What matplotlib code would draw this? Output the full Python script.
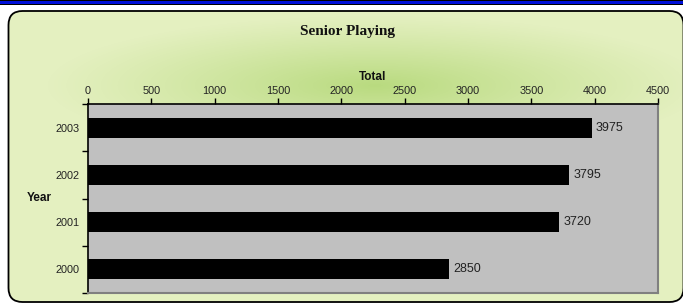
import matplotlib
matplotlib.use("Agg")
import matplotlib.pyplot as plt
import numpy as np
from matplotlib.patches import FancyBboxPatch, Rectangle

years = ["2000", "2001", "2002", "2003"]
totals = [2850, 3720, 3795, 3975]
xticks = [0, 500, 1000, 1500, 2000, 2500, 3000, 3500, 4000, 4500]
title = "Senior Playing"
xlabel = "Total"
ylabel = "Year"

W, H = 683, 307
fig = plt.figure(figsize=(W / 100, H / 100), dpi=100)
fig.patch.set_facecolor("white")

def fx(x):
    return x / W

def fy(y):
    return 1 - y / H

# top band
fig.patches.append(Rectangle((0, fy(5)), 1, 5 / H, transform=fig.transFigure,
                             facecolor="black", edgecolor="none", zorder=0))
fig.patches.append(Rectangle((0, fy(3.8)), 1, 2.4 / H, transform=fig.transFigure,
                             facecolor="#0010D8", edgecolor="none", zorder=0))

# background axes with gradient
bg = fig.add_axes([0, 0, 1, 1], zorder=-5)
bg.set_xlim(0, W)
bg.set_ylim(H, 0)
bg.axis("off")
bx, by, bw, bh = 8.5, 11, 675, 291
box = FancyBboxPatch((bx, by), bw, bh, boxstyle="round,pad=0,rounding_size=14",
                     facecolor="#E4F0C0", edgecolor="none", zorder=1)
bg.add_patch(box)
yy, xx = np.mgrid[0:H, 0:W]
d = np.sqrt(((xx - 375) / 330.0) ** 2 + ((yy - 85) / 70.0) ** 2)
a = np.clip(1 - d, 0, 1) ** 1.1
rgba = np.zeros((H, W, 4))
rgba[..., 0] = 0xB4 / 255
rgba[..., 1] = 0xD8 / 255
rgba[..., 2] = 0x78 / 255
rgba[..., 3] = a * 0.9
im = bg.imshow(rgba, extent=(0, W, H, 0), zorder=2, interpolation="bilinear")
clipbox = FancyBboxPatch((bx, by), bw, bh, boxstyle="round,pad=0,rounding_size=14",
                         transform=bg.transData, facecolor="none", edgecolor="none")
bg.add_patch(clipbox)
im.set_clip_path(clipbox)
box2 = FancyBboxPatch((bx, by), bw, bh, boxstyle="round,pad=0,rounding_size=14",
                      facecolor="none", edgecolor="black", linewidth=1.3, zorder=3)
bg.add_patch(box2)

# main axes
L, R, T, B = 88, 658, 104, 293
ax = fig.add_axes([fx(L), fy(B), (R - L) / W, (B - T) / H])
ax.set_facecolor("#C0C0C0")
pos = np.arange(len(years))
ax.barh(pos, totals, height=0.42, color="black", zorder=2)
ax.set_xlim(0, 4500)
ax.set_ylim(-0.5, len(years) - 0.5)
ax.xaxis.tick_top()
ax.xaxis.set_label_position("top")
ax.set_xticks(xticks)
ax.set_xticklabels([str(t) for t in xticks], fontsize=7.8, color="#222222",
                   family="Liberation Sans")
ax.tick_params(axis="x", direction="out", length=4, width=1, pad=2)
ax.set_yticks(pos)
ax.set_yticklabels(years, fontsize=7.8, color="#222222", family="Liberation Sans")
ax.set_yticks(np.arange(-0.5, len(years), 1.0), minor=True)
ax.tick_params(axis="y", which="major", length=0, pad=6)
ax.tick_params(axis="y", which="minor", direction="out", length=4, width=1)
ax.set_xlabel(xlabel, fontsize=8.5, fontweight="bold", family="Liberation Sans",
              labelpad=4, color="#111111")
for s in ["left", "top"]:
    ax.spines[s].set_color("black")
    ax.spines[s].set_linewidth(1.2)
for s in ["right", "bottom"]:
    ax.spines[s].set_color("#808080")
    ax.spines[s].set_linewidth(1.5)
for p, v in zip(pos, totals):
    ax.text(v + 35, p, str(v), va="center", ha="left", fontsize=9,
            family="Liberation Sans", color="#222222")

fig.text(fx(39), fy(198), ylabel, ha="center", va="center", fontsize=8.5,
         fontweight="bold", family="Liberation Sans", color="#111111")
fig.text(fx(348), fy(31), title, ha="center", va="center", fontsize=11,
         fontweight="bold", family="Liberation Serif", color="#111111")

fig.savefig("out.png", dpi=100)
